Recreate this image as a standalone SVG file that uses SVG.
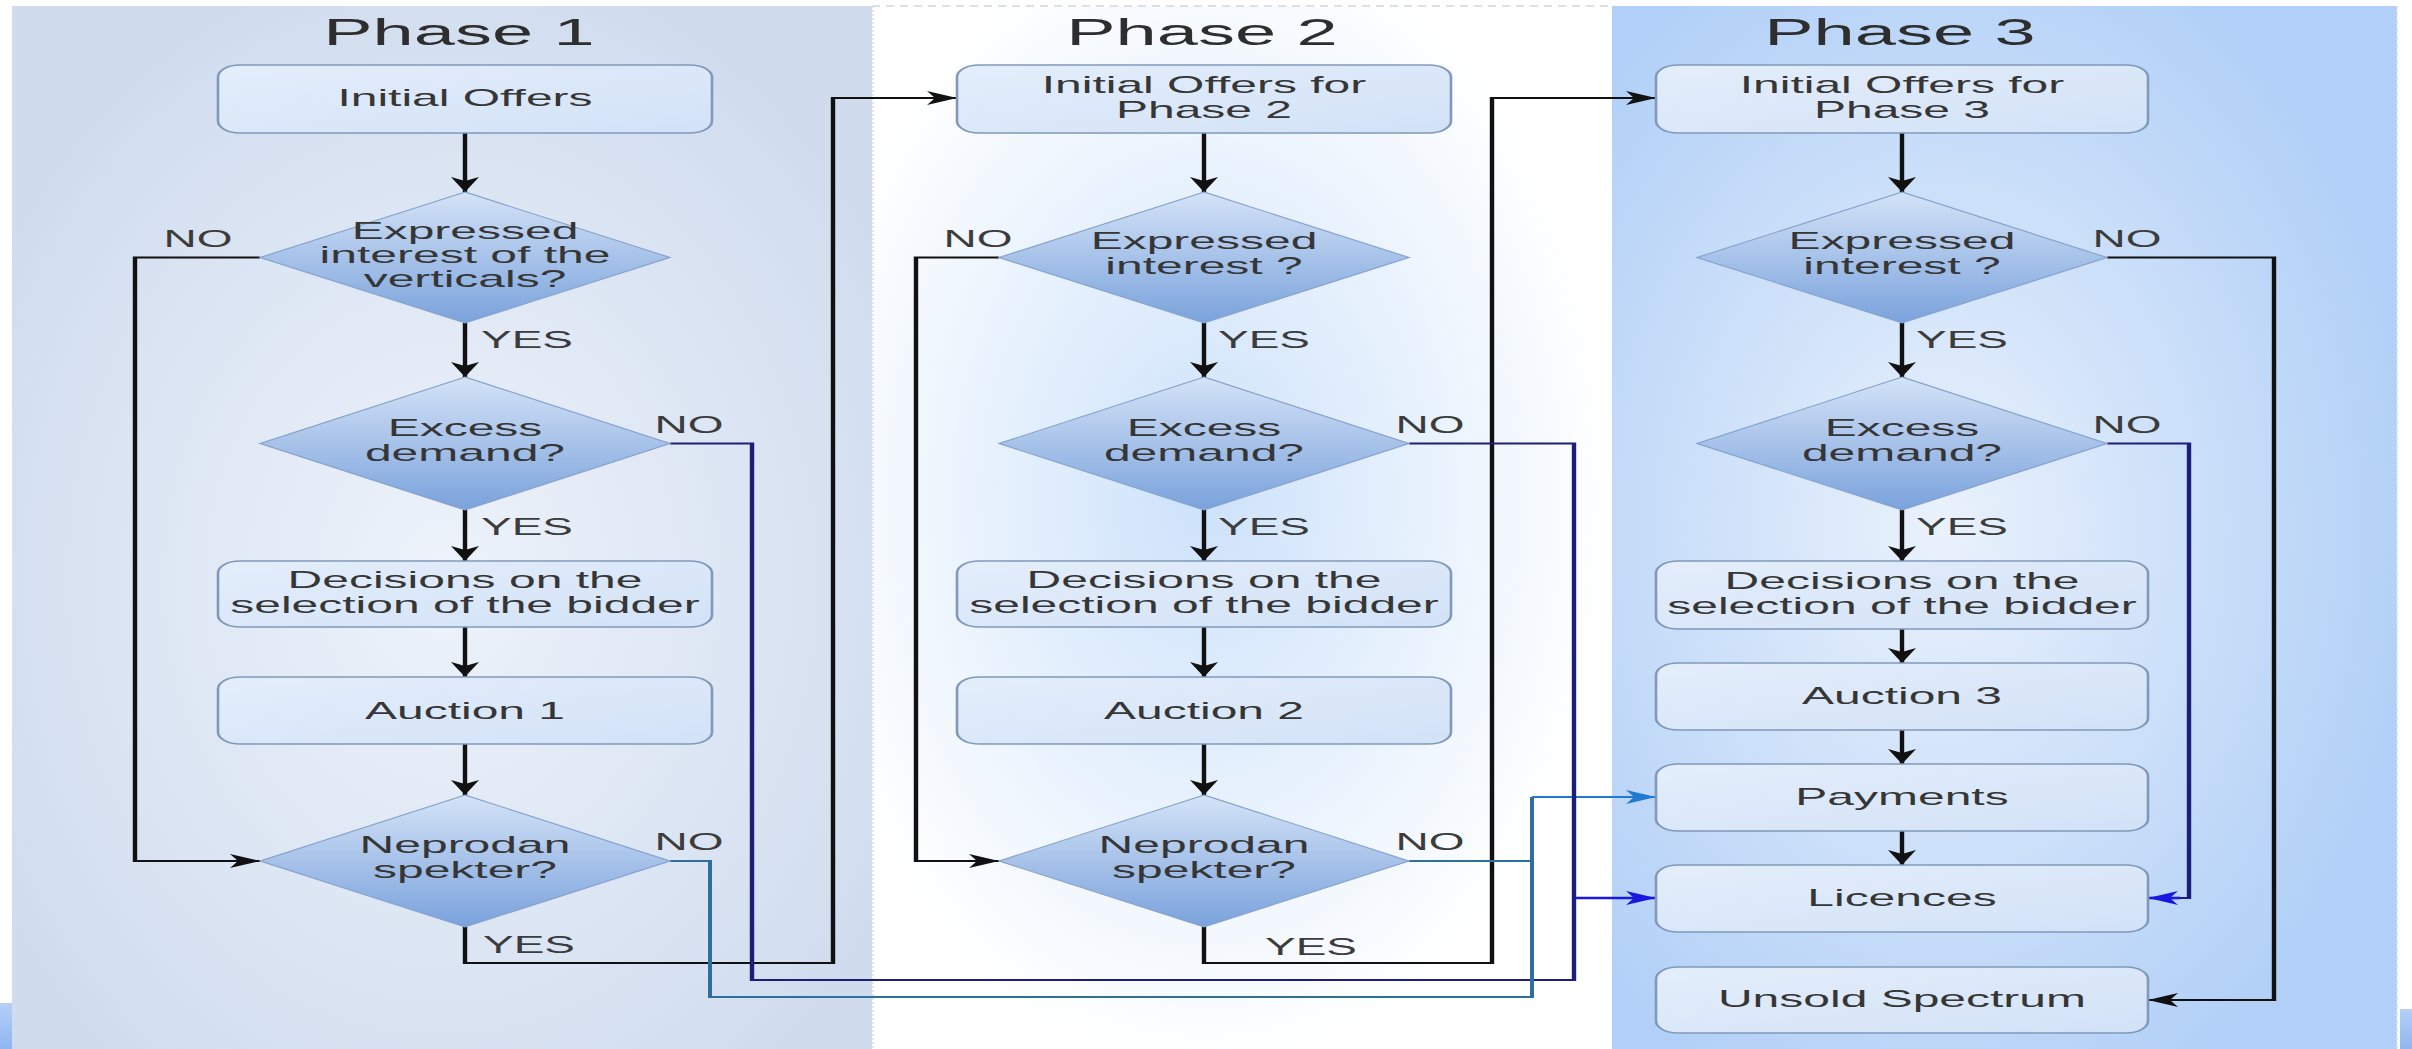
<svg xmlns="http://www.w3.org/2000/svg" width="2412" height="1049" viewBox="0 0 2412 1049">
<defs>
<style>
.t{font-family:"Liberation Sans",Arial,sans-serif;font-size:24px;fill:#363636;text-anchor:middle}
.ttl{font-size:37px;fill:#2e2e2e}
.lbl{font-size:23px;fill:#3c3c3c}
.st{text-anchor:start}
.box{fill:url(#gBox);stroke:#8099bb;stroke-width:1.3}
.dia{fill:url(#gDia);stroke:#86a2cc;stroke-width:1}
.c{fill:none;stroke:#111;stroke-width:2.2}
.cn{fill:none;stroke:#1c1f7a;stroke-width:2.2}
.ct{fill:none;stroke:#2f6f9f;stroke-width:2}
.cb{fill:none;stroke:#1818e0;stroke-width:2.6}
.cl{fill:none;stroke:#1f7ad0;stroke-width:2.2}
</style>
<radialGradient id="gP1" cx="0.5" cy="0.55" r="0.6">
<stop offset="0" stop-color="#eef3fb"/><stop offset="1" stop-color="#d0dcee"/>
</radialGradient>
<radialGradient id="gP2" cx="0.45" cy="0.47" r="0.55">
<stop offset="0" stop-color="#cde2fb"/><stop offset="0.55" stop-color="#e8f2fd"/><stop offset="1" stop-color="#ffffff"/>
</radialGradient>
<radialGradient id="gP3" cx="0.42" cy="0.5" r="0.6">
<stop offset="0" stop-color="#eaf2fc"/><stop offset="1" stop-color="#b2d0f7"/>
</radialGradient>
<linearGradient id="gBox" x1="0" y1="0" x2="1" y2="1">
<stop offset="0" stop-color="#e4eefb"/><stop offset="1" stop-color="#d2e2f7"/>
</linearGradient>
<linearGradient id="gDia" x1="0" y1="0" x2="0" y2="1">
<stop offset="0" stop-color="#d4e3f7"/><stop offset="1" stop-color="#7aa2dc"/>
</linearGradient>
<linearGradient id="gSq" x1="0" y1="0" x2="0" y2="1">
<stop offset="0" stop-color="#b5d0f8"/><stop offset="1" stop-color="#8fb6f0"/>
</linearGradient>
<marker id="aK" markerUnits="userSpaceOnUse" markerWidth="18" markerHeight="16" refX="15" refY="7" orient="auto" overflow="visible"><path d="M0,0 L15,7 L0,14 L4,7 Z" fill="#111"/></marker>
<marker id="aB" markerUnits="userSpaceOnUse" markerWidth="18" markerHeight="16" refX="15" refY="7" orient="auto" overflow="visible"><path d="M0,0 L15,7 L0,14 L4,7 Z" fill="#1818e0"/></marker>
<marker id="aL" markerUnits="userSpaceOnUse" markerWidth="18" markerHeight="16" refX="15" refY="7" orient="auto" overflow="visible"><path d="M0,0 L15,7 L0,14 L4,7 Z" fill="#1f7ad0"/></marker>
</defs>
<rect x="0" y="0" width="2412" height="1049" fill="#ffffff"/>
<g transform="scale(2,1)">
<g id="panels">
<rect x="6" y="6" width="430" height="1043" fill="url(#gP1)"/>
<rect x="436" y="6" width="370" height="1043" fill="url(#gP2)"/>
<rect x="806" y="6" width="392.5" height="1043" fill="url(#gP3)"/>
<line x1="436" y1="6" x2="806" y2="6" stroke="#cfd6df" stroke-width="1.5" stroke-dasharray="4 3"/>
<line x1="436.5" y1="6" x2="436.5" y2="1049" stroke="#dfe6ee" stroke-width="1" stroke-dasharray="2 2"/>
<line x1="1198.5" y1="6" x2="1198.5" y2="1049" stroke="#d6e2f0" stroke-width="1" stroke-dasharray="2 2"/>
<rect x="0" y="1003" width="6" height="46" fill="url(#gSq)"/>
<rect x="1200" y="1009" width="6" height="40" fill="url(#gSq)"/>
</g>
<g id="titles">
<text class="t ttl" x="229.5" y="45">Phase 1</text>
<text class="t ttl" x="601" y="45">Phase 2</text>
<text class="t ttl" x="950" y="45">Phase 3</text>
</g>
<g id="connectors">
<path class="c" d="M232.5,133 V192" marker-end="url(#aK)"/>
<path class="c" d="M232.5,323 V377" marker-end="url(#aK)"/>
<path class="c" d="M232.5,510 V561" marker-end="url(#aK)"/>
<path class="c" d="M232.5,627 V677" marker-end="url(#aK)"/>
<path class="c" d="M232.5,744 V795" marker-end="url(#aK)"/>
<path class="c" d="M130,257.5 H67.5 V861 H130" marker-end="url(#aK)"/>
<path class="c" d="M232.5,927 V963 H416.5 V98 H478.5" marker-end="url(#aK)"/>
<path class="cn" d="M335,443.5 H376 V980 H787 V898"/>
<path class="cb" d="M787,898 H828" marker-end="url(#aB)"/>
<path class="ct" d="M335,861 H355 V997 H766 V797"/>
<path class="cl" d="M766,797 H828" marker-end="url(#aL)"/>
<path class="c" d="M602,133 V192" marker-end="url(#aK)"/>
<path class="c" d="M602,323 V377" marker-end="url(#aK)"/>
<path class="c" d="M602,510 V561" marker-end="url(#aK)"/>
<path class="c" d="M602,627 V677" marker-end="url(#aK)"/>
<path class="c" d="M602,744 V795" marker-end="url(#aK)"/>
<path class="c" d="M499.5,257.5 H458 V861 H499.5" marker-end="url(#aK)"/>
<path class="c" d="M602,927 V963 H746 V98 H828" marker-end="url(#aK)"/>
<path class="cn" d="M704.5,443.5 H787 V898"/>
<path class="ct" d="M704.5,861 H766"/>
<path class="c" d="M951,133 V192" marker-end="url(#aK)"/>
<path class="c" d="M951,323 V377" marker-end="url(#aK)"/>
<path class="c" d="M951,510 V561" marker-end="url(#aK)"/>
<path class="c" d="M951,629 V663" marker-end="url(#aK)"/>
<path class="c" d="M951,730 V764" marker-end="url(#aK)"/>
<path class="c" d="M951,831 V865" marker-end="url(#aK)"/>
<path class="c" d="M1053.5,257.5 H1137 V1000 H1074" marker-end="url(#aK)"/>
<path class="cn" d="M1053.5,443.5 H1094.5 V898 H1076"/>
<path class="cb" d="M1090,898 H1074" marker-end="url(#aB)"/>
</g>
<g id="labels">
<text class="t lbl" x="99" y="247">NO</text>
<text class="t lbl st" x="240.5" y="348">YES</text>
<text class="t lbl" x="344.5" y="433">NO</text>
<text class="t lbl st" x="240.5" y="535">YES</text>
<text class="t lbl" x="344.5" y="850">NO</text>
<text class="t lbl st" x="241.5" y="953">YES</text>
<text class="t lbl" x="489" y="247">NO</text>
<text class="t lbl st" x="609" y="348">YES</text>
<text class="t lbl" x="715" y="433">NO</text>
<text class="t lbl st" x="609" y="535">YES</text>
<text class="t lbl" x="715" y="850">NO</text>
<text class="t lbl st" x="632.5" y="955">YES</text>
<text class="t lbl" x="1063.5" y="247">NO</text>
<text class="t lbl st" x="958" y="348">YES</text>
<text class="t lbl" x="1063.5" y="433">NO</text>
<text class="t lbl st" x="958" y="535">YES</text>
</g>
<g id="p1-offers"><rect class="box" x="109" y="65" width="247" height="68" rx="11" ry="12"/><text class="t" x="232.5" y="106">Initial Offers</text></g>
<g id="p1-interest"><polygon class="dia" points="232.5,192 335,257.5 232.5,323 130,257.5"/><text class="t" x="232.5" y="239">Expressed</text><text class="t" x="232.5" y="263">interest of the</text><text class="t" x="232.5" y="287">verticals?</text></g>
<g id="p1-excess"><polygon class="dia" points="232.5,377 335,443.5 232.5,510 130,443.5"/><text class="t" x="232.5" y="436">Excess</text><text class="t" x="232.5" y="461">demand?</text></g>
<g id="p1-decisions"><rect class="box" x="109" y="561" width="247" height="66" rx="11" ry="12"/><text class="t" x="232.5" y="588">Decisions on the</text><text class="t" x="232.5" y="613">selection of the bidder</text></g>
<g id="p1-auction"><rect class="box" x="109" y="677" width="247" height="67" rx="11" ry="12"/><text class="t" x="232.5" y="719">Auction 1</text></g>
<g id="p1-unsold"><polygon class="dia" points="232.5,795 335,861 232.5,927 130,861"/><text class="t" x="232.5" y="853">Neprodan</text><text class="t" x="232.5" y="878">spekter?</text></g>
<g id="p2-offers"><rect class="box" x="478.5" y="65" width="247" height="68" rx="11" ry="12"/><text class="t" x="602" y="93">Initial Offers for</text><text class="t" x="602" y="118">Phase 2</text></g>
<g id="p2-interest"><polygon class="dia" points="602,192 704.5,257.5 602,323 499.5,257.5"/><text class="t" x="602" y="249">Expressed</text><text class="t" x="602" y="274">interest ?</text></g>
<g id="p2-excess"><polygon class="dia" points="602,377 704.5,443.5 602,510 499.5,443.5"/><text class="t" x="602" y="436">Excess</text><text class="t" x="602" y="461">demand?</text></g>
<g id="p2-decisions"><rect class="box" x="478.5" y="561" width="247" height="66" rx="11" ry="12"/><text class="t" x="602" y="588">Decisions on the</text><text class="t" x="602" y="613">selection of the bidder</text></g>
<g id="p2-auction"><rect class="box" x="478.5" y="677" width="247" height="67" rx="11" ry="12"/><text class="t" x="602" y="719">Auction 2</text></g>
<g id="p2-unsold"><polygon class="dia" points="602,795 704.5,861 602,927 499.5,861"/><text class="t" x="602" y="853">Neprodan</text><text class="t" x="602" y="878">spekter?</text></g>
<g id="p3-offers"><rect class="box" x="828" y="65" width="246" height="68" rx="11" ry="12"/><text class="t" x="951" y="93">Initial Offers for</text><text class="t" x="951" y="118">Phase 3</text></g>
<g id="p3-interest"><polygon class="dia" points="951,192 1053.5,257.5 951,323 848.5,257.5"/><text class="t" x="951" y="249">Expressed</text><text class="t" x="951" y="274">interest ?</text></g>
<g id="p3-excess"><polygon class="dia" points="951,377 1053.5,443.5 951,510 848.5,443.5"/><text class="t" x="951" y="436">Excess</text><text class="t" x="951" y="461">demand?</text></g>
<g id="p3-decisions"><rect class="box" x="828" y="561" width="246" height="68" rx="11" ry="12"/><text class="t" x="951" y="589">Decisions on the</text><text class="t" x="951" y="614">selection of the bidder</text></g>
<g id="p3-auction"><rect class="box" x="828" y="663" width="246" height="67" rx="11" ry="12"/><text class="t" x="951" y="704">Auction 3</text></g>
<g id="p3-payments"><rect class="box" x="828" y="764" width="246" height="67" rx="11" ry="12"/><text class="t" x="951" y="805">Payments</text></g>
<g id="p3-licences"><rect class="box" x="828" y="865" width="246" height="67" rx="11" ry="12"/><text class="t" x="951" y="906">Licences</text></g>
<g id="p3-unsold-spectrum"><rect class="box" x="828" y="967" width="246" height="66" rx="11" ry="12"/><text class="t" x="951" y="1007">Unsold Spectrum</text></g>
</g>
</svg>
